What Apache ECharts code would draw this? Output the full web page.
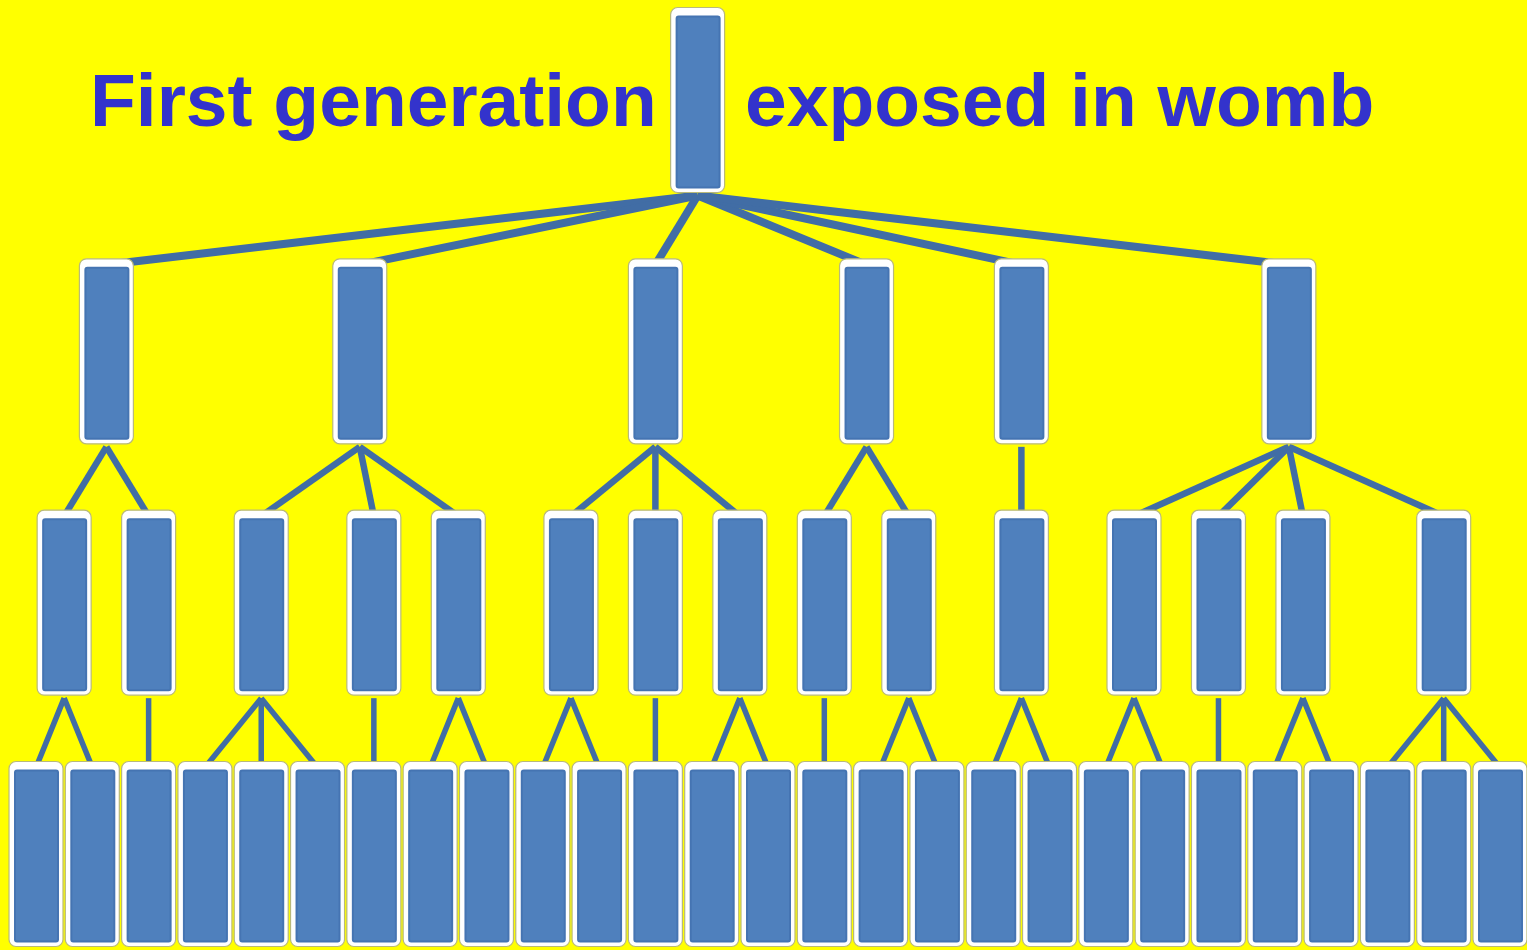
<!DOCTYPE html>
<html><head><meta charset="utf-8">
<script src="https://cdn.jsdelivr.net/npm/echarts@6/dist/echarts.min.js"></script>
<style>html,body{margin:0;padding:0;background:#ffff00}#chart{width:1527px;height:950px}</style>
</head><body><div id="chart"></div>
<script>
// ---- data ----
const titleLeft = 'First generation';
const titleRight = 'exposed in womb';
const childrenOfGen1 = [2, 3, 3, 2, 1, 4];                                // gen-1 nodes -> number of gen-2 children
const childrenOfGen2 = [2, 1, 3, 1, 2, 2, 1, 2, 1, 2, 2, 2, 1, 2, 3];     // gen-2 nodes -> number of gen-3 children
const leafCount = childrenOfGen2.reduce((a, b) => a + b, 0);

// ---- tidy tree layout in data units (x: leaf slot, y: generation) ----
const nodes = [];
const edges = [];
let slot = 0;
const gen2Pos = childrenOfGen2.map(n => {
  const x = (slot + slot + n - 1) / 2;
  for (let k = 0; k < n; k++) { nodes.push([slot, 3]); edges.push([slot, 3, x, 2]); slot++; }
  return x;
});
let g2 = 0;
const gen1Pos = childrenOfGen1.map(n => {
  const xs = gen2Pos.slice(g2, g2 + n); g2 += n;
  const x = (xs[0] + xs[xs.length - 1]) / 2;
  xs.forEach(cx => { nodes.push([cx, 2]); edges.push([cx, 2, x, 1]); });
  return x;
});
const rootX = (gen1Pos[0] + gen1Pos[gen1Pos.length - 1]) / 2;
gen1Pos.forEach(cx => { nodes.push([cx, 1]); edges.push([cx, 1, rootX, 0]); });
nodes.push([rootX, 0]);

const BOX_H = 0.736;   // box height in generation units
const BOX_W = 54;      // px
const lineWidths = [8, 6.5, 5.5];

function renderEdge(params, api) {
  const c = api.coord([api.value(0), api.value(1)]);
  const p = api.coord([api.value(2), api.value(3)]);
  const h = api.size([0, BOX_H])[1];
  return {
    type: 'line',
    shape: { x1: p[0], y1: p[1] + h / 2 + 3, x2: c[0], y2: c[1] - h / 2 + 6 },
    style: { stroke: '#416da5', lineWidth: lineWidths[api.value(3)], lineCap: 'butt' }
  };
}
function renderNode(params, api) {
  const c = api.coord([api.value(0), api.value(1)]);
  const h = api.size([0, BOX_H])[1];
  const w = BOX_W;
  const x = c[0] - w / 2, y = c[1] - h / 2;
  return {
    type: 'group',
    children: [
      { type: 'rect', shape: { x: x, y: y, width: w, height: h, r: 7 },
        style: { fill: '#ffffff', stroke: '#b9b97a', lineWidth: 1.2 } },
      { type: 'rect', shape: { x: x + 6, y: y + 9, width: w - 11, height: h - 14, r: 2 },
        style: { fill: '#4f80bd', stroke: '#4574b2', lineWidth: 2 } }
    ]
  };
}

const chart = echarts.init(document.getElementById('chart'));
chart.setOption({
  backgroundColor: '#ffff00',
  animation: false,
  grid: { left: 36, right: 27, top: 100, bottom: 96 },
  xAxis: { type: 'value', min: 0, max: leafCount - 1, show: false },
  yAxis: { type: 'value', min: 0, max: 3, inverse: true, show: false },
  graphic: [
    { type: 'text', x: 90, y: 105, z: 100,
      style: { text: titleLeft, font: 'bold 75px "Liberation Sans", Arial, sans-serif', fill: '#3333cc', verticalAlign: 'middle' } },
    { type: 'text', x: 745, y: 105, z: 100,
      style: { text: titleRight, font: 'bold 75px "Liberation Sans", Arial, sans-serif', fill: '#3333cc', verticalAlign: 'middle' } }
  ],
  series: [
    { type: 'custom', z: 1, renderItem: renderEdge, data: edges, silent: true },
    { type: 'custom', z: 2, renderItem: renderNode, data: nodes, silent: true }
  ]
});
</script></body></html>
